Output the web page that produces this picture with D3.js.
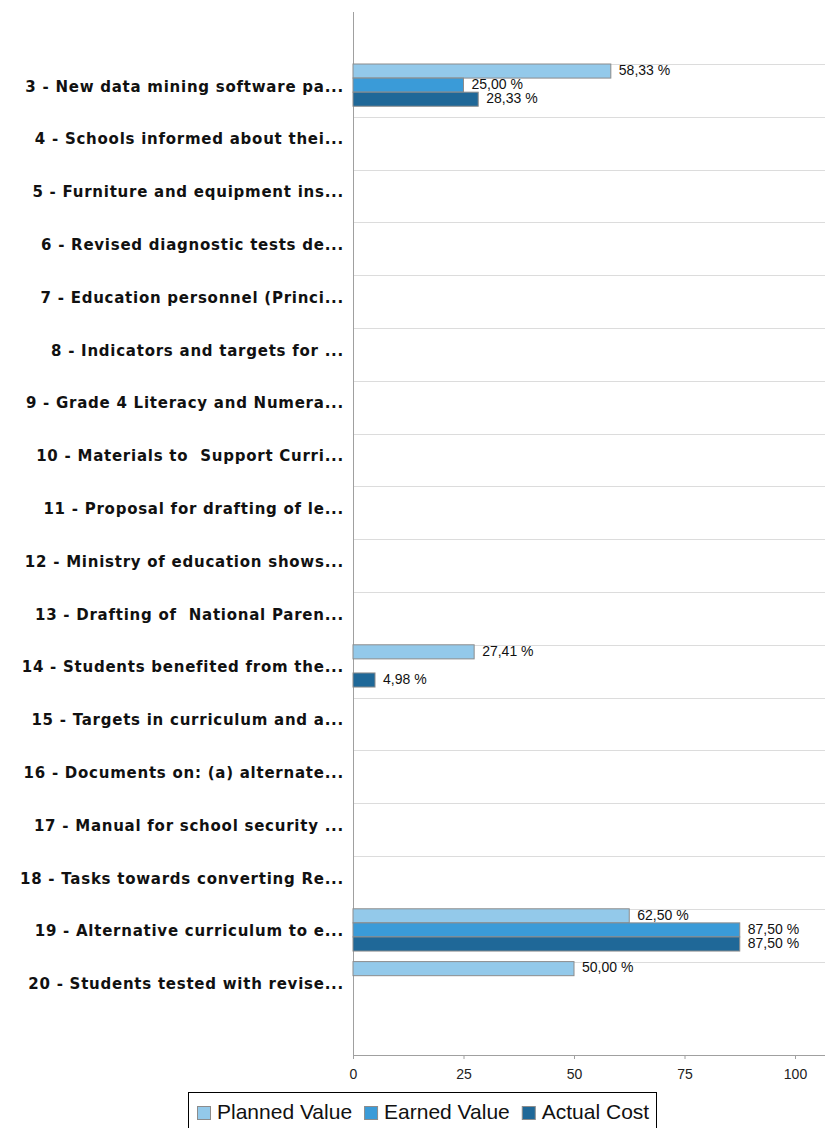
<!DOCTYPE html>
<html><head><meta charset="utf-8">
<script src="https://cdn.jsdelivr.net/npm/d3@7"></script>
<style>body{margin:0;background:#fff}svg{display:block}</style>
</head><body>
<svg id="c" width="825" height="1128"></svg>
<script>
const categories = [
  "3 - New data mining software pa...",
  "4 - Schools informed about thei...",
  "5 - Furniture and equipment ins...",
  "6 - Revised diagnostic tests de...",
  "7 - Education personnel (Princi...",
  "8 - Indicators and targets for ...",
  "9 - Grade 4 Literacy and Numera...",
  "10 - Materials to  Support Curri...",
  "11 - Proposal for drafting of le...",
  "12 - Ministry of education shows...",
  "13 - Drafting of  National Paren...",
  "14 - Students benefited from the...",
  "15 - Targets in curriculum and a...",
  "16 - Documents on: (a) alternate...",
  "17 - Manual for school security ...",
  "18 - Tasks towards converting Re...",
  "19 - Alternative curriculum to e...",
  "20 - Students tested with revise..."
];
const seriesNames = ["Planned Value", "Earned Value", "Actual Cost"];
const plannedValue = [58.33,0,0,0,0,0,0,0,0,0,0,27.41,0,0,0,0,62.50,50.00];
const earnedValue  = [25.00,0,0,0,0,0,0,0,0,0,0,0,0,0,0,0,87.50,0];
const actualCost   = [28.33,0,0,0,0,0,0,0,0,0,0,4.98,0,0,0,0,87.50,0];
const xTicks = [0,25,50,75,100];
const colors = ["#93c9ea","#3a9bd8","#1f6898"];

const svg = d3.select("#c");
const x = d3.scaleLinear().domain([0,100]).range([353,795]);
const step = 52.8, padIn = 0.2;
const y = d3.scaleBand().domain(categories).range([64, 64 + step*(categories.length - padIn)])
  .paddingInner(padIn).paddingOuter(0).align(0);
const ys = d3.scaleBand().domain(seriesNames).range([0, y.bandwidth()]);

// gridlines
svg.append("g").selectAll("line").data(categories).join("line")
  .attr("x1",353).attr("x2",825)
  .attr("y1",d=>Math.round(y(d))+0.5).attr("y2",d=>Math.round(y(d))+0.5)
  .attr("stroke","#dcdcdc").attr("stroke-width",1);

// y axis line
svg.append("line").attr("x1",353.5).attr("x2",353.5).attr("y1",12).attr("y2",1056)
  .attr("stroke","#a0a0a0");

// category labels
svg.append("g").selectAll("text").data(categories).join("text")
  .attr("x",344).attr("y",d=>y(d)+y.bandwidth()/2+2)
  .attr("text-anchor","end").attr("dominant-baseline","middle")
  .attr("font-family","DejaVu Sans").attr("font-weight","bold")
  .attr("font-size",15).attr("letter-spacing",0.75).attr("fill","#111")
  .style("white-space","pre")
  .text(d=>d);

const data = [];
categories.forEach((c,i)=>{
  [plannedValue,earnedValue,actualCost].forEach((arr,j)=>{
    if(arr[i]>0) data.push({c, s:seriesNames[j], v:arr[i], col:colors[j]});
  });
});

svg.append("g").selectAll("rect").data(data).join("rect")
  .attr("x",x(0)).attr("y",d=>y(d.c)+ys(d.s))
  .attr("width",d=>x(d.v)-x(0)).attr("height",ys.bandwidth())
  .attr("fill",d=>d.col).attr("stroke","#8c8c8c").attr("stroke-width",1);

const fmt = v => v.toFixed(2).replace(".",",") + " %";
svg.append("g").selectAll("text").data(data).join("text")
  .attr("x",d=>x(d.v)+8).attr("y",d=>y(d.c)+ys(d.s)+ys.bandwidth()/2)
  .attr("dominant-baseline","middle")
  .attr("font-family","Liberation Sans").attr("font-size",14).attr("fill","#111")
  .text(d=>fmt(d.v));

// x axis
const xa = svg.append("g").attr("transform","translate(0,1055)")
  .call(d3.axisBottom(x).tickValues(xTicks).tickSize(4).tickFormat(d3.format("d")));
xa.select(".domain").attr("d","M353,0.5H825").attr("stroke","#a0a0a0");
xa.selectAll(".tick line").attr("stroke","#a0a0a0");
xa.selectAll(".tick text").attr("font-family","Liberation Sans").attr("font-size",14)
  .attr("fill","#222").attr("dy","1.2em");

// legend
const lg = svg.append("g");
lg.append("rect").attr("x",188.5).attr("y",1092.5).attr("width",468).attr("height",40)
  .attr("fill","#fff").attr("stroke","#000");
let lx = 197;
seriesNames.forEach((n,i)=>{
  lg.append("rect").attr("x",lx+0.5).attr("y",1106.5).attr("width",13).attr("height",13)
    .attr("fill",colors[i]).attr("stroke","#8c8c8c");
  const t = lg.append("text").attr("x",lx+20).attr("y",1113).attr("dominant-baseline","middle")
    .attr("font-family","Liberation Sans").attr("font-size",21).attr("fill","#111").text(n);
  lx += 20 + t.node().getComputedTextLength() + 12;
});
</script>
</body></html>
